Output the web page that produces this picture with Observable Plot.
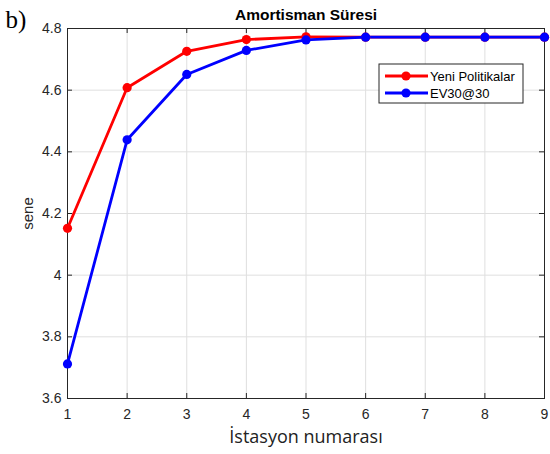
<!DOCTYPE html>
<html>
<head>
<meta charset="utf-8">
<script src="https://cdn.jsdelivr.net/npm/d3@7"></script>
<script src="https://cdn.jsdelivr.net/npm/@observablehq/plot@0.6"></script>
<style>
  html, body { margin: 0; padding: 0; background: #fff; }
</style>
</head>
<body>
<div id="chart"></div>
<script>
// Station numbers and payback period (years) for each scenario
const stations = [1, 2, 3, 4, 5, 6, 7, 8, 9];
const yeniPolitikalar = [4.152, 4.608, 4.726, 4.764, 4.773, 4.772, 4.772, 4.772, 4.772];
const ev30at30 = [3.712, 4.439, 4.651, 4.729, 4.763, 4.772, 4.772, 4.772, 4.772];

const seriesNames = ["Yeni Politikalar", "EV30@30"];
const seriesColors = ["#ff0000", "#0000ff"];

const xTicks = [1, 2, 3, 4, 5, 6, 7, 8, 9];
const yTicks = [3.6, 3.8, 4.0, 4.2, 4.4, 4.6, 4.8];

const titleText = "Amortisman Süresi";
const panelLabel = "b)";
const xLabel = "İstasyon numarası";
const yLabel = "sene";

const rows = [
  ...stations.map((s, i) => ({station: s, value: yeniPolitikalar[i], series: seriesNames[0]})),
  ...stations.map((s, i) => ({station: s, value: ev30at30[i], series: seriesNames[1]}))
];

const W = 550, H = 454;
const mL = 67, mR = 6, mT = 28, mB = 56;
const innerW = W - mL - mR, innerH = H - mT - mB;
const tickLen = 5;
const ink = "#262626";

const chart = Plot.plot({
  width: W,
  height: H,
  marginLeft: mL,
  marginRight: mR,
  marginTop: mT,
  marginBottom: mB,
  style: {fontFamily: "'Liberation Sans', Arial, sans-serif", fontSize: "14px", color: ink, background: "#fff"},
  x: {domain: [1, 9], label: null},
  y: {domain: [3.6, 4.8], label: null},
  color: {domain: seriesNames, range: seriesColors},
  marks: [
    Plot.gridX(xTicks, {stroke: "#dfdfdf", strokeOpacity: 1}),
    Plot.gridY(yTicks, {stroke: "#dfdfdf", strokeOpacity: 1}),
    Plot.frame({stroke: ink, strokeWidth: 1}),
    // inward ticks on all four sides
    Plot.ruleX(xTicks, {stroke: ink, insetTop: innerH - tickLen}),
    Plot.ruleX(xTicks, {stroke: ink, insetBottom: innerH - tickLen}),
    Plot.ruleY(yTicks, {stroke: ink, insetRight: innerW - tickLen}),
    Plot.ruleY(yTicks, {stroke: ink, insetLeft: innerW - tickLen}),
    Plot.axisX(xTicks, {tickSize: 0, tickPadding: 11, fill: ink, fontSize: 14, label: null}),
    Plot.axisY(yTicks, {tickSize: 0, tickPadding: 6, fill: ink, fontSize: 14, label: null,
      tickFormat: d => String(+d.toFixed(1))}),
    Plot.line(rows, {x: "station", y: "value", stroke: "series", z: "series", strokeWidth: 2.8}),
    Plot.dot(rows, {x: "station", y: "value", fill: "series", r: 4.6}),
    Plot.text([titleText], {frameAnchor: "top", dy: -9, lineAnchor: "bottom",
      fontWeight: "bold", fontSize: 15.5, fill: "#000"}),
    Plot.text([panelLabel], {frameAnchor: "top-left", dx: 5 - mL, dy: -1, lineAnchor: "bottom",
      textAnchor: "start", fontFamily: "'Liberation Serif', 'Times New Roman', serif", fontSize: 25, fill: "#000"}),
    Plot.text([yLabel], {frameAnchor: "left", dx: -39, rotate: -90, textAnchor: "middle",
      fontSize: 15, fill: ink}),
    Plot.text([xLabel], {frameAnchor: "bottom", dy: 44, lineAnchor: "bottom",
      fontFamily: "'Open Sans', 'Noto Sans', sans-serif", fontSize: 18, fill: "#222"})
  ]
});

// Legend box in the upper right of the axes
const svg = d3.select(chart);
const lg = svg.append("g").attr("transform", "translate(379,64)").attr("text-anchor", "start");
lg.append("rect").attr("width", 144).attr("height", 39)
  .attr("fill", "#fff").attr("stroke", ink).attr("stroke-width", 1);
seriesNames.forEach((name, i) => {
  const y = 12 + i * 17;
  lg.append("line").attr("x1", 6).attr("x2", 49).attr("y1", y).attr("y2", y)
    .attr("stroke", seriesColors[i]).attr("stroke-width", 2.8);
  lg.append("circle").attr("cx", 27).attr("cy", y).attr("r", 4.6).attr("fill", seriesColors[i]);
  lg.append("text").attr("x", 51).attr("y", y).attr("dy", "0.35em")
    .attr("font-size", 13).attr("fill", "#000").text(name);
});

document.getElementById("chart").appendChild(chart);
</script>
</body>
</html>
